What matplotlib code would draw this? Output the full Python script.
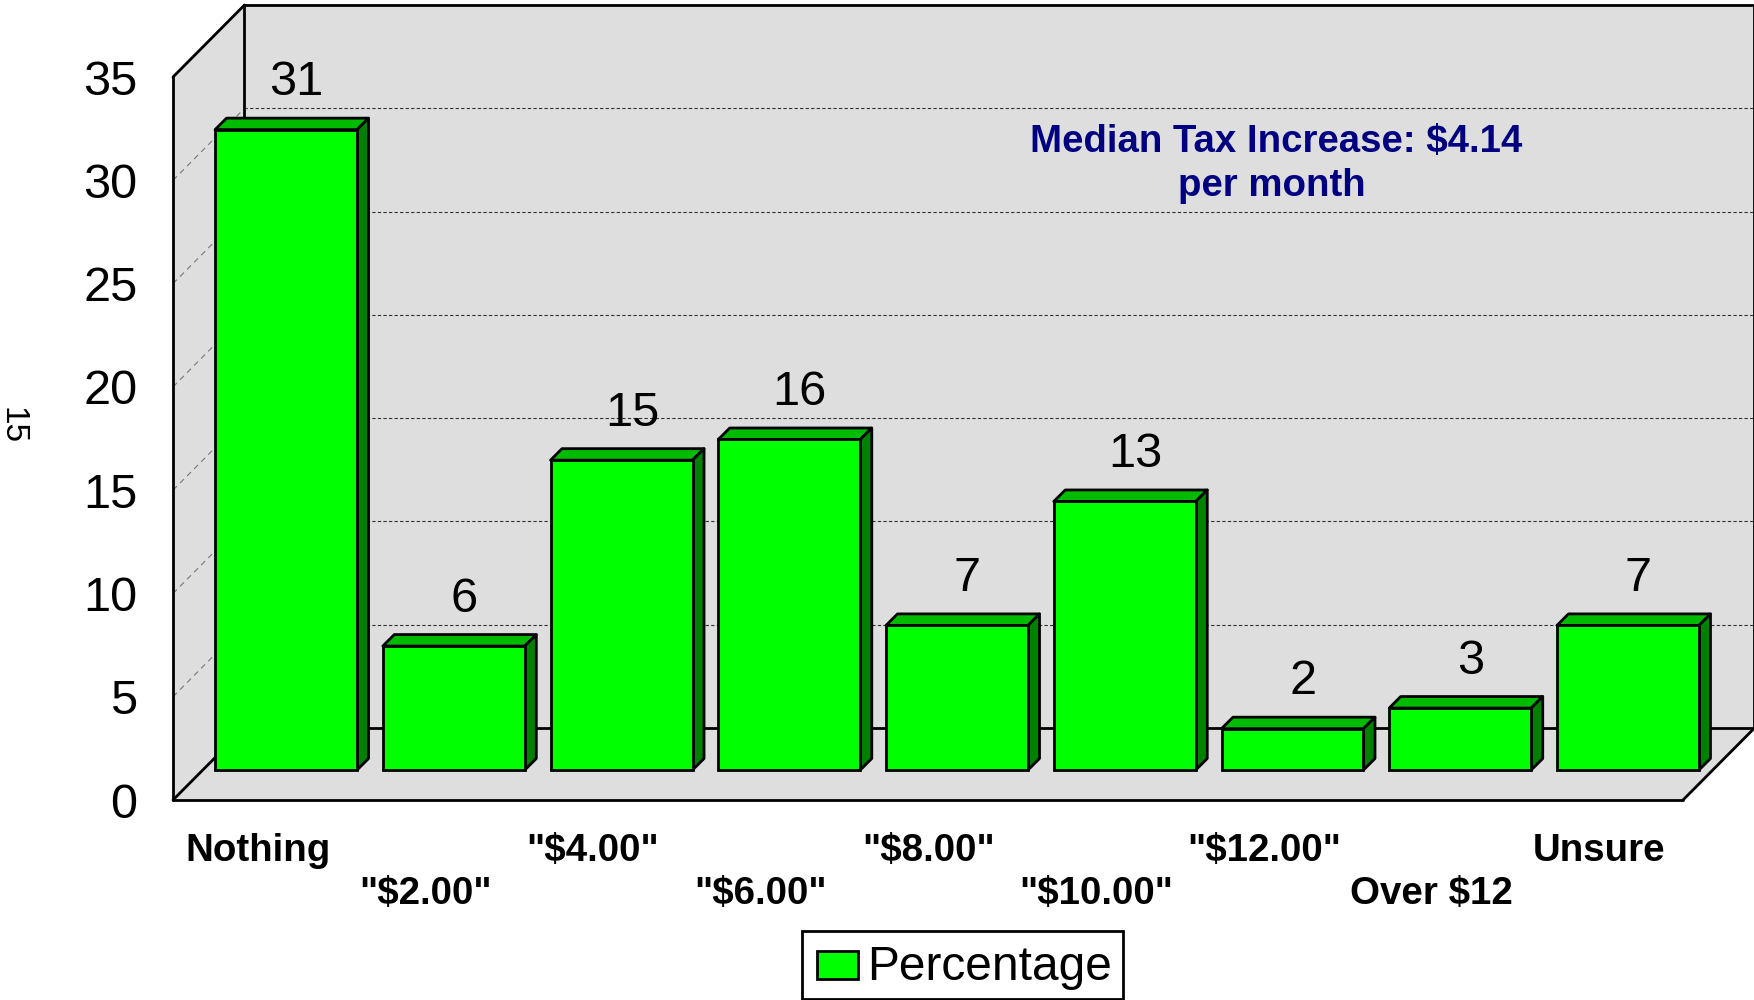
import matplotlib
matplotlib.use("Agg")
import matplotlib.pyplot as plt
from matplotlib.legend_handler import HandlerPatch
from matplotlib.patches import Patch, Polygon, Rectangle

plt.rcParams['font.family'] = ['Liberation Sans', 'DejaVu Sans']

categories = ['Nothing', '"$2.00"', '"$4.00"', '"$6.00"', '"$8.00"',
              '"$10.00"', '"$12.00"', 'Over $12', 'Unsure']
values = [31, 6, 15, 16, 7, 13, 2, 3, 7]
y_ticks = [0, 5, 10, 15, 20, 25, 30, 35]

WALL = '#dedede'
FRONT = '#00ff00'
TOP = '#00bb00'
SIDE = '#008000'

W, H = 1754, 1000
fig = plt.figure(figsize=(W / 100, H / 100), dpi=100)
# the axes is the front plane of the box
ax = fig.add_axes([173 / W, 1 - 800 / H, (1683 - 173) / W, (800 - 77) / H])
ax.set_xlim(-0.674, 8.328)
ax.set_ylim(0, 35)
ax.patch.set_visible(False)
for s in ax.spines.values():
    s.set_visible(False)

xmin, xmax = ax.get_xlim()
ymax = 35
wall_dx = 71.5 / 167.75   # box depth in data units
wall_dy = 72 / 20.66
bar_dx = 11.5 / 167.75    # bar depth
bar_dy = 11.5 / 20.66
bar_w = 142 / 167.75
base = 30 / 20.66         # bars stand a bit forward of the floor edge
lw = 2

# walls and floor
ax.add_patch(Polygon([(xmin, 0), (xmin + wall_dx, wall_dy), (xmin + wall_dx, ymax + wall_dy), (xmin, ymax)],
                     fc=WALL, ec='none', clip_on=False, zorder=1))
ax.add_patch(Polygon([(xmin + wall_dx, wall_dy), (xmax + wall_dx, wall_dy),
                      (xmax + wall_dx, ymax + wall_dy), (xmin + wall_dx, ymax + wall_dy)],
                     fc=WALL, ec='none', clip_on=False, zorder=1))
ax.add_patch(Polygon([(xmin, 0), (xmax, 0), (xmax + wall_dx, wall_dy), (xmin + wall_dx, wall_dy)],
                     fc=WALL, ec='none', clip_on=False, zorder=1))

# gridlines
for t in y_ticks[1:-1]:
    ax.plot([xmin + wall_dx, xmax + wall_dx], [t + wall_dy, t + wall_dy], color='#333333', lw=0.8,
            dashes=(3, 2), clip_on=False, zorder=2)
    ax.plot([xmin, xmin + wall_dx], [t, t + wall_dy], color='#777777', lw=0.8,
            dashes=(5, 4), clip_on=False, zorder=2)

# box edges
edges = [
    ([xmin, xmin], [0, ymax]),
    ([xmin, xmin + wall_dx], [ymax, ymax + wall_dy]),
    ([xmin + wall_dx, xmin + wall_dx], [wall_dy, ymax + wall_dy]),
    ([xmin + wall_dx, xmax + wall_dx], [ymax + wall_dy, ymax + wall_dy]),
    ([xmax + wall_dx, xmax + wall_dx], [wall_dy, ymax + wall_dy]),
    ([xmin + wall_dx, xmax + wall_dx], [wall_dy, wall_dy]),
    ([xmin, xmin + wall_dx], [0, wall_dy]),
    ([xmax, xmax + wall_dx], [0, wall_dy]),
    ([xmin, xmax], [0, 0]),
]
for ex, ey in edges:
    ax.plot(ex, ey, color='black', lw=lw, clip_on=False, zorder=3, solid_capstyle='round')

# bars
xs = list(range(len(values)))
bars = ax.bar(xs, values, width=bar_w, bottom=base, color=FRONT, edgecolor='black',
              linewidth=lw, zorder=6, clip_on=False)
for x, v in zip(xs, values):
    l, r = x - bar_w / 2, x + bar_w / 2
    top = base + v
    ax.add_patch(Polygon([(l, top), (r, top), (r + bar_dx, top + bar_dy), (l + bar_dx, top + bar_dy)],
                         fc=TOP, ec='black', lw=lw, joinstyle='round', clip_on=False, zorder=5))
    ax.add_patch(Polygon([(r, base), (r + bar_dx, base + bar_dy), (r + bar_dx, top + bar_dy), (r, top)],
                         fc=SIDE, ec='black', lw=lw, joinstyle='round', clip_on=False, zorder=5))
    ax.annotate(str(v), (x, top + bar_dy), xytext=(7.5, 16.5), textcoords='offset points',
                ha='center', va='baseline', fontsize=35, color='black', zorder=7, annotation_clip=False)

# axis labels
ax.set_yticks(y_ticks)
ax.tick_params(axis='y', length=0, pad=25.5, labelsize=35)
ax.set_xticks([x - 0.17 for x in xs])
ax.set_xticklabels([c if i % 2 == 0 else '\n' + c for i, c in enumerate(categories)],
                   fontsize=27.7, fontweight='bold', linespacing=1.27)
ax.tick_params(axis='x', length=0, pad=23.5)

# note inside the chart
fig.text(1276 / W, 1 - 152 / H, 'Median Tax Increase: $4.14', fontsize=27.6, fontweight='bold',
         color='#000080', ha='center', va='baseline')
fig.text(1272 / W, 1 - 196 / H, 'per month', fontsize=27.6, fontweight='bold',
         color='#000080', ha='center', va='baseline')

# stray label at the far left
fig.text(12 / W, 1 - 426 / H, '15', fontsize=24, rotation=-90, ha='center', va='center')


def inset_box(legend, orig_handle, xdescent, ydescent, width, height, fontsize):
    return Rectangle((2.5 - xdescent, -ydescent - 1.6), width - 5, height - 2.4)


leg = fig.legend(handles=[Patch(facecolor=FRONT, edgecolor='black', linewidth=lw, label='Percentage')],
                 loc='lower left', bbox_to_anchor=(802 / W, 1 / H), bbox_transform=fig.transFigure,
                 fontsize=34.5, fancybox=False, framealpha=1, edgecolor='black',
                 handlelength=1.0, handleheight=0.63, handletextpad=0.11,
                 borderpad=0.24, borderaxespad=0,
                 handler_map={Patch: HandlerPatch(patch_func=inset_box)})
leg.get_frame().set_linewidth(lw)
leg.get_texts()[0].set_y(-2.4)

fig.savefig('out.png', dpi=100)
